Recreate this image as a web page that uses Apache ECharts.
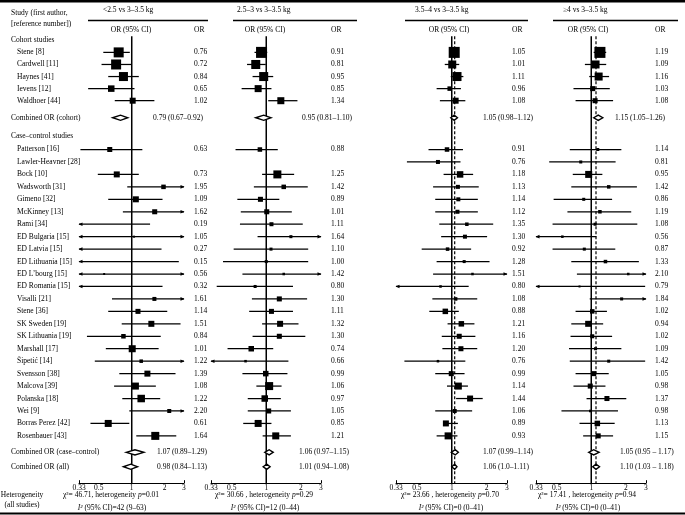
<!DOCTYPE html>
<html><head><meta charset="utf-8">
<script src="https://cdn.jsdelivr.net/npm/echarts@6/dist/echarts.min.js"></script>
<style>html,body{margin:0;padding:0;background:#fff}#c{width:685px;height:515px}</style>
</head><body><div id="c"></div>
<script>
// ---------- DATA ----------
const cohortStudies = ['Stene [8]','Cardwell [11]','Haynes [41]','Ievens [12]','Waldhoer [44]'];
const caseStudies = ['Patterson [16]','Lawler-Heavner [28]','Bock [10]','Wadsworth [31]','Gimeno [32]','McKinney [13]','Rami [34]','ED Bulgaria [15]','ED Latvia [15]','ED Lithuania [15]','ED L\u2019bourg [15]','ED Romania [15]','Visalli [21]','Stene [36]','SK Sweden [19]','SK Lithuania [19]','Marshall [17]','\u0160ipeti\u0107 [14]','Svensson [38]','Malcova [39]','Polanska [18]','Wei [9]','Borras Perez [42]','Rosenbauer [43]'];
const panelTitles = ['<2.5 vs 3\u20133.5 kg','2.5\u20133 vs 3\u20133.5 kg','3.5\u20134 vs 3\u20133.5 kg','\u22654 vs 3\u20133.5 kg'];
const tickLabels = [0.33, 0.5, 1, 2, 3];

// Panel 1: <2.5 vs 3-3.5 kg
const p1CohortOR = [0.76,0.72,0.84,0.65,1.02];
const p1CohortLo = [0.55,0.53,0.61,0.40,0.70];
const p1CohortHi = [0.96,0.99,1.16,1.06,1.61];
const p1CohortW  = [25,25,20.3,10.6,9];
const p1CaseOR = [0.63,null,0.73,1.95,1.09,1.62,0.19,1.05,0.27,0.15,0.56,0.32,1.61,1.14,1.51,0.84,1.01,1.22,1.39,1.08,1.22,2.20,0.61,1.64];
const p1CaseLo = [0.34,null,0.49,0.91,0.61,0.83,0.02,0.12,0.04,0.01,0.10,0.05,0.66,0.61,0.81,0.39,0.58,0.46,0.77,0.69,0.82,0.95,0.42,1.10];
const p1CaseHi = [1.25,null,1.16,4.2,1.91,3.2,1.47,9.0,1.87,2.69,3.1,1.91,3.9,2.11,2.79,1.84,1.76,3.3,2.51,1.66,1.82,5.1,0.95,2.55];
const p1CaseW  = [6.3,null,9,5.1,9,6.3,1,1,1,1,1,1,4,6.3,9,5.1,12.3,3.1,9,12.3,14.1,4,12.3,16];
const p1Combined = [[0.79,0.67,0.92],[1.07,0.89,1.29],[0.98,0.84,1.13]];
const p1CombinedText = ['0.79 (0.67\u20130.92)','1.07 (0.89\u20131.29)','0.98 (0.84\u20131.13)'];

// Panel 2: 2.5-3 vs 3-3.5 kg
const p2CohortOR = [0.91,0.81,0.95,0.85,1.34];
const p2CohortLo = [0.79,0.68,0.76,0.61,1.04];
const p2CohortHi = [1.02,0.99,1.15,1.11,1.87];
const p2CohortW  = [30.3,20.3,20.3,12.3,12.3];
const p2CaseOR = [0.88,null,1.25,1.42,0.89,1.01,1.11,1.64,1.10,1.00,1.42,0.80,1.30,1.11,1.32,1.30,0.74,0.66,0.99,1.06,0.97,1.05,0.85,1.21];
const p2CaseLo = [0.54,null,0.92,0.78,0.56,0.60,0.59,0.84,0.52,0.42,0.62,0.37,0.75,0.71,0.92,0.76,0.46,0.28,0.62,0.82,0.69,0.69,0.63,0.93];
const p2CaseHi = [1.26,null,1.75,2.30,1.30,1.67,2.08,3.3,2.32,2.32,3.3,1.71,2.27,1.71,1.91,2.19,1.15,1.56,1.53,1.36,1.34,1.64,1.11,1.64];
const p2CaseW  = [5.1,null,16,5.1,6.3,6.3,4,2.3,2.3,2.3,1.6,2.3,6.3,6.3,9,6.3,7.6,1.6,7.6,16,10.6,6.3,12.3,12.3];
const p2Combined = [[0.95,0.81,1.10],[1.06,0.97,1.15],[1.01,0.94,1.08]];
const p2CombinedText = ['0.95 (0.81\u20131.10)','1.06 (0.97\u20131.15)','1.01 (0.94\u20131.08)'];

// Panel 3: 3.5-4 vs 3-3.5 kg
const p3CohortOR = [1.05,1.01,1.11,0.96,1.08];
const p3CohortLo = [0.98,0.87,0.98,0.74,0.79];
const p3CohortHi = [1.12,1.16,1.26,1.20,1.31];
const p3CohortW  = [30.3,16,20.3,5.1,9];
const p3CaseOR = [0.91,0.76,1.18,1.13,1.14,1.12,1.35,1.30,0.92,1.28,1.51,0.80,1.08,0.88,1.21,1.16,1.20,0.76,0.99,1.14,1.44,1.06,0.89,0.93];
const p3CaseLo = [0.63,0.41,0.85,0.69,0.72,0.72,0.78,0.81,0.55,0.74,0.69,0.30,0.68,0.64,0.92,0.82,0.83,0.39,0.72,0.91,1.09,0.72,0.84,0.74];
const p3CaseHi = [1.25,1.19,1.53,1.71,1.68,1.68,2.28,2.02,1.47,2.12,3.3,1.40,1.66,1.15,1.57,1.60,1.66,1.31,1.29,1.38,1.85,1.50,1.13,1.12];
const p3CaseW  = [5.1,4,10.6,4,4,4,3.1,4,3.1,2.3,1.6,1.6,3.1,7.6,7.6,6.3,6.3,1.6,6.3,12.3,9,4,9,12.3];
const p3Combined = [[1.05,0.98,1.12],[1.07,0.99,1.14],[1.06,1.00,1.11]];
const p3CombinedText = ['1.05 (0.98\u20131.12)','1.07 (0.99\u20131.14)','1.06 (1.0\u20131.11)'];

// Panel 4: >=4 vs 3-3.5 kg
const p4CohortOR = [1.19,1.09,1.16,1.03,1.08];
const p4CohortLo = [1.05,0.88,0.96,0.70,0.73];
const p4CohortHi = [1.35,1.35,1.43,1.45,1.55];
const p4CohortW  = [30.3,16,16,6.3,6.3];
const p4CaseOR = [1.14,0.81,0.95,1.42,0.86,1.19,1.08,0.56,0.87,1.33,2.10,0.79,1.84,1.02,0.94,1.02,1.09,1.42,1.05,0.98,1.37,0.98,1.13,1.15];
const p4CaseLo = [0.65,0.43,0.69,0.67,0.47,0.62,0.46,0.28,0.46,0.67,0.75,0.25,0.97,0.73,0.67,0.66,0.64,0.65,0.73,0.70,0.91,0.55,0.79,0.85];
const p4CaseHi = [1.83,1.63,1.25,2.50,1.52,2.23,2.52,1.11,1.62,2.60,3.4,2.95,3.6,1.37,1.27,1.52,1.83,2.95,1.42,1.33,2.02,1.71,1.60,1.55];
const p4CaseW  = [2.3,2.3,12.3,3.1,2.3,3.1,2.3,1.6,2.3,3.1,1.6,1,2.3,5.1,9,4,2.3,2.3,6.3,6.3,6.3,1.6,7.6,6.3];
const p4Combined = [[1.15,1.05,1.26],[1.05,0.95,1.17],[1.10,1.03,1.18]];
const p4CombinedText = ['1.15 (1.05\u20131.26)','1.05 (0.95 \u2013 1.17)','1.10 (1.03 \u2013 1.18)'];

// Heterogeneity (all studies)
const hetChi2 = ['46.71','30.66','23.66','17.41'];
const hetP = ['0.01','0.29','0.70','0.94'];
const hetI2 = ['42 (9\u201363)','12 (0\u201344)','0 (0\u201341)','0 (0\u201341)'];

// ---------- ASSEMBLY ----------
const P = [
  {cOR:p1CohortOR,cLo:p1CohortLo,cHi:p1CohortHi,cW:p1CohortW,sOR:p1CaseOR,sLo:p1CaseLo,sHi:p1CaseHi,sW:p1CaseW,comb:p1Combined,combT:p1CombinedText},
  {cOR:p2CohortOR,cLo:p2CohortLo,cHi:p2CohortHi,cW:p2CohortW,sOR:p2CaseOR,sLo:p2CaseLo,sHi:p2CaseHi,sW:p2CaseW,comb:p2Combined,combT:p2CombinedText},
  {cOR:p3CohortOR,cLo:p3CohortLo,cHi:p3CohortHi,cW:p3CohortW,sOR:p3CaseOR,sLo:p3CaseLo,sHi:p3CaseHi,sW:p3CaseW,comb:p3Combined,combT:p3CombinedText},
  {cOR:p4CohortOR,cLo:p4CohortLo,cHi:p4CohortHi,cW:p4CohortW,sOR:p4CaseOR,sLo:p4CaseLo,sHi:p4CaseHi,sW:p4CaseW,comb:p4Combined,combT:p4CombinedText}
];

// layout
const FONT = '"Liberation Serif", "DejaVu Serif", serif';
const FS = 7.5;
const INK = '#000';
const YMAX = 36.8;
const gridPos = [{left:79,width:105},{left:211,width:110},{left:396,width:111},{left:536,width:110}];
const L = [
  {tx:103,l1:88,l2:208,ci:131,orx:194,comb:[153,157,157],st:111,dashed:false},
  {tx:237,l1:233,l2:357,ci:265,orx:331,comb:[302,299,299],st:264,dashed:false},
  {tx:415,l1:405,l2:528,ci:449,orx:512,comb:[483,483,483],st:450,dashed:true},
  {tx:563,l1:553,l2:678,ci:588,orx:655,comb:[615,620,620],st:587,dashed:true}
];
const rowCohortHead = 1.2, rowCombCohort = 7.45, rowCaseHead = 8.92, rowCombCase = 34.32, rowCombAll = 35.48, refTop = 0.9;
const cohortRow = i => 2.2 + 0.97 * i;
const caseRow = j => 10 + j;

function ciRender(params, api) {
  const or = api.value(0), lo = api.value(1), hi = api.value(2), y = api.value(3), w = api.value(4);
  const cs = params.coordSys;
  const xmin = cs.x, xmax = cs.x + cs.width;
  const py = api.coord([1, y])[1];
  let xl = api.coord([lo, y])[0], xh = api.coord([hi, y])[0];
  const la = xl < xmin - 0.5, ra = xh > xmax + 0.5;
  xl = Math.max(xl, xmin); xh = Math.min(xh, xmax);
  const ch = [{type:'line', shape:{x1:xl,y1:py,x2:xh,y2:py}, style:{stroke:INK,lineWidth:1.25}}];
  if (la) ch.push({type:'polygon', shape:{points:[[xl-0.5,py],[xl+3.5,py-1.8],[xl+3.5,py+1.8]]}, style:{fill:INK}});
  if (ra) ch.push({type:'polygon', shape:{points:[[xh+0.5,py],[xh-3.5,py-1.8],[xh-3.5,py+1.8]]}, style:{fill:INK}});
  if (or >= 0.33 && or <= 3) {
    const xo = api.coord([or, y])[0];
    const s = 2 * Math.sqrt(w);
    ch.push({type:'rect', shape:{x:xo-s/2, y:py-s/2, width:s, height:s}, style:{fill:'#000'}});
  }
  return {type:'group', children:ch};
}
function diamondRender(params, api) {
  const or = api.value(0), lo = api.value(1), hi = api.value(2), y = api.value(3);
  const p0 = api.coord([lo, y]), p1 = api.coord([or, y]), p2 = api.coord([hi, y]);
  const h = 2.6;
  return {type:'polygon', shape:{points:[[p0[0],p0[1]],[p1[0],p1[1]-h],[p2[0],p2[1]],[p1[0],p1[1]+h]]},
    style:{fill:'#fff', stroke:'#000', lineWidth:1.4}};
}
function refRender(params, api) {
  const v = api.value(0), a = api.coord([v, api.value(1)]), b = api.coord([v, api.value(2)]);
  const dashed = api.value(3) === 1;
  return {type:'line', shape:{x1:a[0],y1:a[1],x2:b[0],y2:b[1]},
    style:{stroke:INK, lineWidth: dashed ? 1.2 : 1.5, lineDash: dashed ? [3,2] : null}};
}

const grid = [], xAxis = [], yAxis = [], series = [];
P.forEach((p, i) => {
  grid.push({left:gridPos[i].left, width:gridPos[i].width, top:25, height:458.2});
  xAxis.push({type:'log', logBase:10, gridIndex:i, min:0.33, max:3,
    axisLine:{show:true, onZero:false, lineStyle:{color:INK, width:1}},
    axisTick:{show:true, inside:true, length:3, customValues:[tickLabels[0]+0.001, tickLabels[4]-0.001], lineStyle:{color:INK}},
    axisLabel:{customValues: tickLabels.map((t,k)=> k===0 ? t+0.001 : (k===4 ? t-0.001 : t)),
      formatter: v => String(Math.round(v*100)/100), fontFamily:FONT, fontSize:FS, color:INK, margin:0.5},
    splitLine:{show:false}, minorTick:{show:false}});
  yAxis.push({type:'value', gridIndex:i, min:0, max:YMAX, inverse:true, show:false});
  const ref = [[1, refTop, YMAX, 0]];
  if (L[i].dashed) ref.push([p.comb[2][0], refTop, YMAX, 1]);
  series.push({type:'custom', xAxisIndex:i, yAxisIndex:i, z:1, silent:true, encode:{x:0,y:1}, renderItem:refRender, data:ref});
  const rows = [];
  p.cOR.forEach((v,k) => { if (v != null) rows.push([v, p.cLo[k], p.cHi[k], cohortRow(k), p.cW[k]]); });
  p.sOR.forEach((v,k) => { if (v != null) rows.push([v, p.sLo[k], p.sHi[k], caseRow(k), p.sW[k]]); });
  series.push({type:'custom', xAxisIndex:i, yAxisIndex:i, z:2, silent:true, encode:{x:0,y:3}, renderItem:ciRender, data:rows});
  const dia = [rowCombCohort, rowCombCase, rowCombAll].map((r,k) => [p.comb[k][0], p.comb[k][1], p.comb[k][2], r]);
  series.push({type:'custom', xAxisIndex:i, yAxisIndex:i, z:3, silent:true, encode:{x:0,y:3}, renderItem:diamondRender, data:dia});
});

const chart = echarts.init(document.getElementById('c'));
chart.setOption({animation:false, backgroundColor:'#fff', grid, xAxis, yAxis, series});

// ---------- TEXT / RULES ----------
const yPix = v => chart.convertToPixel({gridIndex:0}, [1, v])[1];
const T = (x, y, text, align, extra) => Object.assign({type:'text', x, y, silent:true,
  style:Object.assign({text, fontFamily:FONT, fontSize:FS, fill:INK, align:align||'left', verticalAlign:'middle'}, extra||{})});
const g = [];
g.push({type:'rect', shape:{x:0,y:0,width:685,height:2.5}, style:{fill:'#000'}});
g.push({type:'rect', shape:{x:0,y:512.5,width:685,height:2}, style:{fill:'#000'}});
g.push(T(11, 13, 'Study (first author,'));
g.push(T(11, 24, '[reference number])'));
g.push(T(11, yPix(rowCohortHead), 'Cohort studies'));
cohortStudies.forEach((s,k) => g.push(T(17, yPix(cohortRow(k)), s)));
g.push(T(11, yPix(rowCombCohort), 'Combined OR (cohort)'));
g.push(T(11, yPix(rowCaseHead), 'Case\u2013control studies'));
caseStudies.forEach((s,k) => g.push(T(17, yPix(caseRow(k)), s)));
g.push(T(11, yPix(rowCombCase), 'Combined OR (case\u2013control)'));
g.push(T(11, yPix(rowCombAll), 'Combined OR (all)'));
g.push(T(22, 495, 'Heterogeneity', 'center'));
g.push(T(22, 505.5, '(all studies)', 'center'));
const rich = {n:{fontFamily:FONT,fontSize:FS,fill:INK}, i:{fontFamily:FONT,fontSize:FS,fill:INK,fontStyle:'italic'}};
P.forEach((p,i) => {
  const l = L[i];
  g.push(T(l.tx, 10, panelTitles[i]));
  g.push({type:'line', silent:true, shape:{x1:l.l1,y1:20.5,x2:l.l2,y2:20.5}, style:{stroke:'#000', lineWidth:1.5}});
  g.push(T(l.ci, 30, 'OR (95% CI)', 'center'));
  g.push(T(l.orx, 30, 'OR'));
  p.cOR.forEach((v,k) => { if (v != null) g.push(T(l.orx, yPix(cohortRow(k)), v.toFixed(2))); });
  p.sOR.forEach((v,k) => { if (v != null) g.push(T(l.orx, yPix(caseRow(k)), v.toFixed(2))); });
  [rowCombCohort, rowCombCase, rowCombAll].forEach((r,k) => g.push(T(l.comb[k], yPix(r), p.combT[k])));
  const sep = i === 0 ? ',' : ' ,';
  g.push(T(l.st, 495.5, '{n|\u03c7\u00b2= ' + hetChi2[i] + sep + ' heterogeneity }{i|p}{n|=' + hetP[i] + '}', 'center', {rich}));
  g.push(T(l.st + 1, 508, '{i|I\u00b2}{n| (95% CI)=' + hetI2[i] + '}', 'center', {rich}));
});
chart.setOption({graphic: g});
</script>
</body></html>
